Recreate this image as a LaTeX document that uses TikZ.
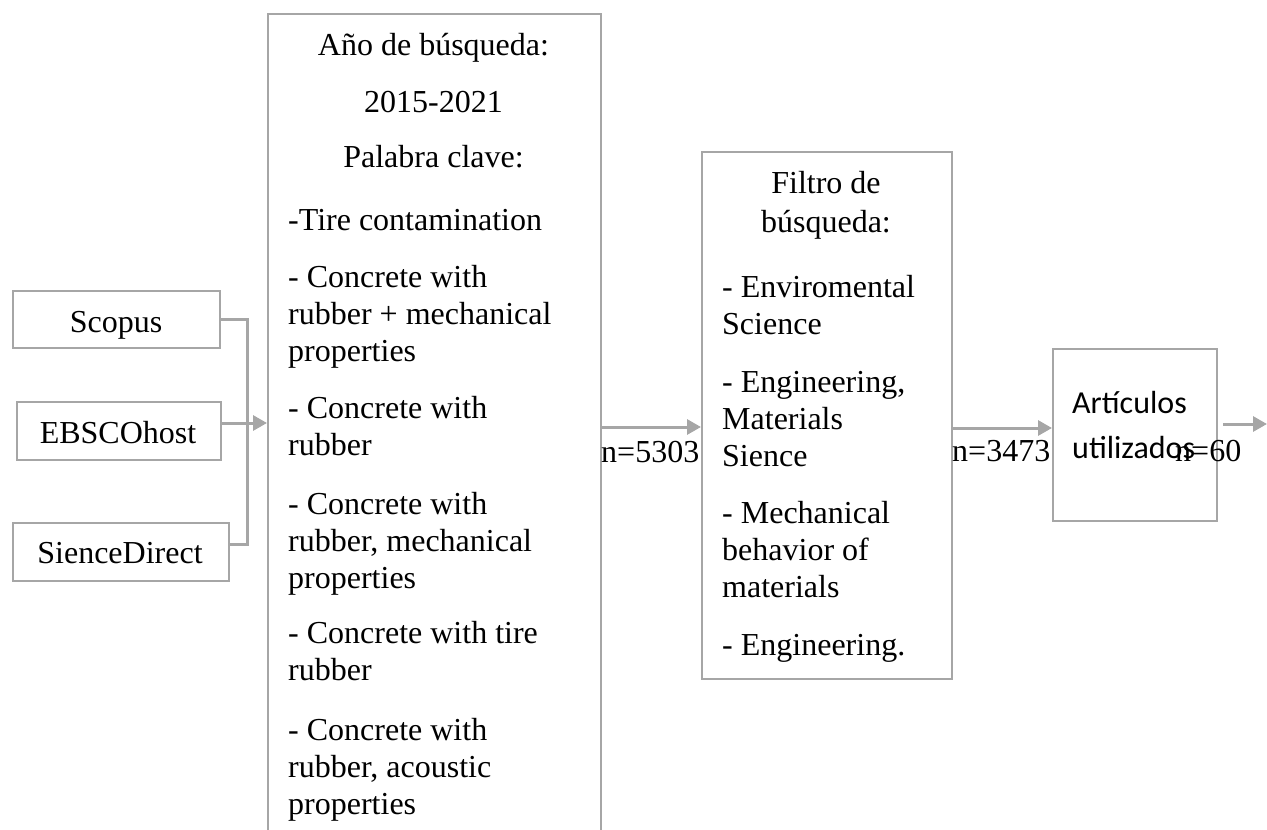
\documentclass[tikz,border=0pt]{standalone}
\usepackage{fontspec}
\setmainfont{Liberation Serif}
\newfontfamily\calibri{Carlito}
\usetikzlibrary{arrows.meta}
\definecolor{lgray}{HTML}{A6A6A6}
\newcommand{\lines}[1]{\vtop{\halign{##\hfil\cr#1\crcr}}}
\begin{document}
\begin{tikzpicture}[x=1pt,y=-1pt,
  box/.style={draw=lgray,line width=2pt,inner sep=0pt,anchor=north west},
  txt/.style={inner sep=0pt,font=\fontsize{32}{37}\selectfont},
  ltxt/.style={txt,anchor=base west},
  ctxt/.style={txt,anchor=base},
  conn/.style={draw=lgray,line width=3pt},
  arr/.style={conn,-{Triangle[length=14pt,width=15pt]}}]
\useasboundingbox (0,0) rectangle (1267,830);
% boxes
\node[box,minimum width=207pt,minimum height=57pt] (scopus) at (12,290) {};
\node[box,minimum width=204pt,minimum height=58pt] (ebsco) at (16,401) {};
\node[box,minimum width=216pt,minimum height=58pt] (sd) at (12,522) {};
\node[box,minimum width=333pt,minimum height=900pt] (big) at (267,13) {};
\node[box,minimum width=250pt,minimum height=527pt] (mid) at (701,151) {};
\node[box,minimum width=164pt,minimum height=172pt] (art) at (1052,348) {};
% left texts
\node[ctxt] (tscopus) at (116,332) {Scopus};
\node[ctxt] (tebsco) at (118,443) {EBSCOhost};
\node[ctxt] (tsd) at (120,563) {SienceDirect};
% big box texts
\node[ctxt] (b1) at (433.5,55) {Año de búsqueda:};
\node[ctxt] (b2) at (433.5,112) {2015-2021};
\node[ctxt] (b3) at (433.5,167) {Palabra clave:};
\node[ltxt] (b4) at (288,230) {-Tire contamination};
\node[ltxt] (b5) at (288,287) {\lines{- Concrete with\cr rubber + mechanical\cr properties}};
\node[ltxt] (b6) at (288,418) {\lines{- Concrete with\cr rubber}};
\node[ltxt] (b7) at (288,514) {\lines{- Concrete with\cr rubber, mechanical\cr properties}};
\node[ltxt] (b8) at (288,643) {\lines{- Concrete with tire\cr rubber}};
\node[ltxt] (b9) at (288,740) {\lines{- Concrete with\cr rubber, acoustic\cr properties}};
% middle box texts
\node[ctxt] (m1) at (826,193) {Filtro de};
\node[ctxt] (m2) at (826,232) {búsqueda:};
\node[ltxt] (m3) at (722,297) {\lines{- Enviromental\cr Science}};
\node[ltxt] (m4) at (722,392) {\lines{- Engineering,\cr Materials\cr Sience}};
\node[ltxt] (m5) at (722,523) {\lines{- Mechanical\cr behavior of\cr materials}};
\node[ltxt] (m6) at (722,655) {- Engineering.};
% article box texts
\node[ltxt,font=\calibri\fontsize{32}{45}\selectfont] (a1) at (1072,413) {\lines{Artículos\cr utilizados}};
% counts
\node[ltxt] (n1) at (601,462) {n=5303};
\node[ltxt] (n2) at (952,461) {n=3473};
\node[ltxt] (n3) at (1175,461) {n=60};
% connectors
\coordinate (j) at (247,422);
\coordinate (out) at (1267,424);
\draw[conn] (scopus.east) -| (j) |- ([yshift=8pt]sd.east);
\draw[arr] ([yshift=8pt]ebsco.east) -- ([yshift=8pt]ebsco.east -| big.west);
\draw[arr] (big.east |- 0,427) -- (mid.west |- 0,427);
\draw[arr] (mid.east |- 0,428) -- (art.west |- 0,428);
\draw[arr] ([xshift=5pt]art.east |- out) -- (out);
\end{tikzpicture}
\end{document}
